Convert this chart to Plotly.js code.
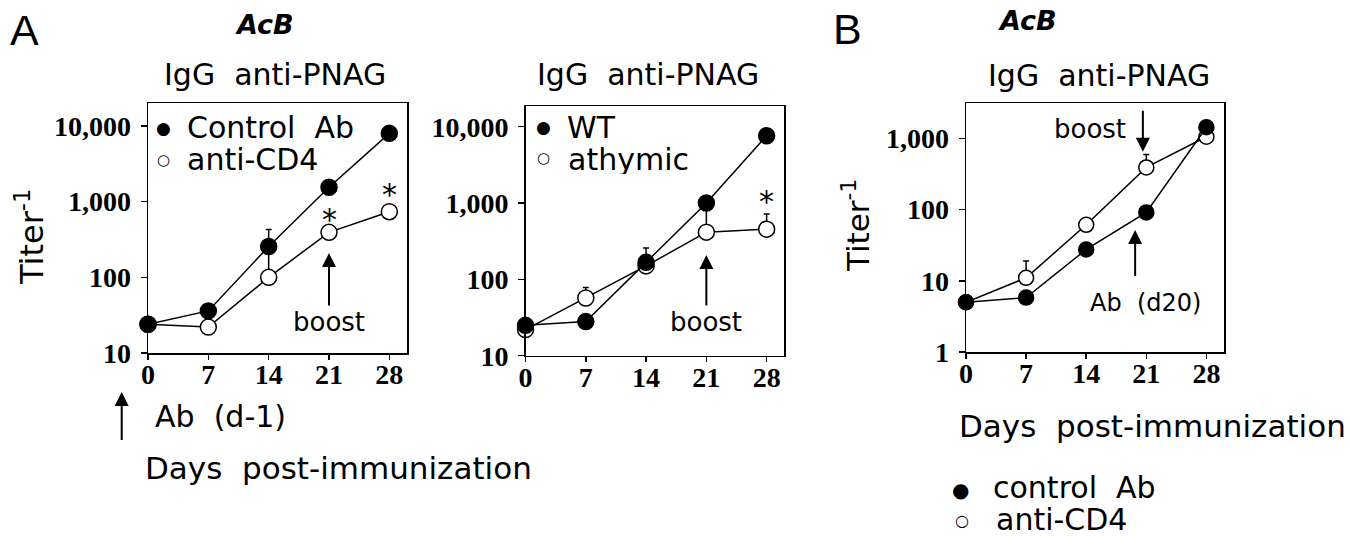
<!DOCTYPE html>
<html><head><meta charset="utf-8">
<script src="https://cdn.plot.ly/plotly-3.0.1.min.js"></script>
<style>html,body{margin:0;padding:0;background:#fff;}#chart{width:1350px;height:536px;}</style>
</head><body><div id="chart"></div>
<script>
// ---- data ----
const days = [0, 7, 14, 21, 28];
const dayTickText = ['0', '7', '14', '21', '28'];

// Panel A left: Control Ab vs anti-CD4
const a1Control = [24, 36, 256, 1550, 8000];
const a1ControlErr = [0, 0, 174, 0, 0];
const a1AntiCD4 = [24, 22, 100, 393, 736];
const a1AntiCD4Err = [0, 0, 140, 0, 0];

// Panel A right: WT vs athymic
const a2WT = [25, 28, 167, 1000, 7600];
const a2WTErr = [0, 0, 90, 0, 0];
const a2Athymic = [22, 57, 150, 415, 455];
const a2AthymicErr = [0, 21, 0, 485, 265];

// Panel B: control Ab vs anti-CD4 (Ab on day 20)
const bControl = [5, 5.8, 27.5, 91, 1430];
const bAntiCD4 = [5, 11, 61, 390, 1050];
const bAntiCD4Err = [0, 8, 0, 200, 0];

const yTicksA = [10, 100, 1000, 10000];
const yTickTextA = ['10', '100', '1,000', '10,000'];
const yTicksB = [1, 10, 100, 1000];
const yTickTextB = ['1', '10', '100', '1,000'];

// ---- layout helpers ----
const W = 1350, H = 536;
const px = x => x / W;
const py = y => 1 - y / H;
const zeros = n => new Array(n).fill(0);

function trace(y, err, filled, xa, ya, size) {
  return {
    x: days, y: y, xaxis: xa, yaxis: ya, type: 'scatter', mode: 'lines+markers',
    line: {color: '#000', width: 1.5},
    marker: {size: size, color: filled ? '#000' : '#fff', line: {color: '#000', width: 1.5}},
    error_y: {type: 'data', symmetric: false, array: err, arrayminus: zeros(days.length),
              visible: true, color: '#000', thickness: 1.5, width: 3},
    showlegend: false, hoverinfo: 'skip', cliponaxis: false
  };
}

const tickFont = {family: 'Liberation Serif', size: 28, weight: 'bold', color: '#000'};
function xAxis(domain, anchor) {
  return {domain: domain, anchor: anchor, range: [0, 30.05], tickmode: 'array', tickvals: days, ticktext: dayTickText,
    ticks: 'outside', ticklen: 5, tickwidth: 1.5, tickcolor: '#000', ticklabelstandoff: -9,
    showline: true, linecolor: '#000', linewidth: 1.5, mirror: true, showgrid: false, zeroline: false,
    tickfont: tickFont, fixedrange: true};
}
function yAxis(domain, anchor, range, tv, tt) {
  return {domain: domain, anchor: anchor, type: 'log', range: range, tickmode: 'array', tickvals: tv, ticktext: tt,
    ticks: 'outside', ticklen: 6, tickwidth: 1.5, tickcolor: '#000', ticklabelstandoff: 4,
    showline: true, linecolor: '#000', linewidth: 1.5, mirror: true, showgrid: false, zeroline: false,
    tickfont: tickFont, fixedrange: true};
}

const data = [
  trace(a1AntiCD4, a1AntiCD4Err, false, 'x', 'y', 16),
  trace(a1Control, a1ControlErr, true, 'x', 'y', 16),
  trace(a2Athymic, a2AthymicErr, false, 'x2', 'y2', 16),
  trace(a2WT, a2WTErr, true, 'x2', 'y2', 16),
  trace(bAntiCD4, bAntiCD4Err, false, 'x3', 'y3', 15),
  trace(bControl, zeros(days.length), true, 'x3', 'y3', 15)
];

const FONT = 'DejaVu Sans';
function ptext(text, x, y, size, opts) {
  return Object.assign({xref: 'paper', yref: 'paper', x: px(x), y: py(y), text: text, showarrow: false,
    xanchor: 'center', yanchor: 'middle', font: {family: FONT, size: size, color: '#000'}}, opts || {});
}
function dtext(text, xa, ya, x, titer, size, opts) {
  return Object.assign({xref: xa, yref: ya, x: x, y: Math.log10(titer), text: text, showarrow: false,
    xanchor: 'center', yanchor: 'middle', font: {family: FONT, size: size, color: '#000'}}, opts || {});
}
const ARROW = {arrowhead: 2, arrowsize: 1.4, arrowwidth: 2, arrowcolor: '#000', standoff: 0, startstandoff: 0};
function darrow(xa, ya, x, titer, ay) {
  return Object.assign({xref: xa, yref: ya, x: x, y: Math.log10(titer), text: ' ', showarrow: true,
    ax: 0, ay: ay, axref: 'pixel', ayref: 'pixel', font: {size: 1}}, ARROW);
}
// arrow whose tail carries a text label
function tarrow(text, xa, ya, x, titer, ay, size) {
  return Object.assign({xref: xa, yref: ya, x: x, y: Math.log10(titer), text: text, showarrow: true,
    ax: 0, ay: ay, axref: 'pixel', ayref: 'pixel', font: {family: FONT, size: size, color: '#000'}}, ARROW);
}
const NB = '\u00a0';
const LEG = {xanchor: 'left', height: 30};
const annotations = [
  ptext('A', 24, 30, 43, {font: {family: 'Liberation Sans', size: 43, color: '#000'}}),
  ptext('B', 847, 29, 43, {font: {family: 'Liberation Sans', size: 43, color: '#000'}}),
  ptext('AcB', 264, 24, 27, {font: {family: FONT, size: 27, color: '#000', weight: 'bold', style: 'italic'}}),
  ptext('AcB', 1027, 20, 27, {font: {family: FONT, size: 27, color: '#000', weight: 'bold', style: 'italic'}}),
  ptext('IgG' + NB + ' anti-PNAG', 275, 74, 30),
  ptext('IgG' + NB + ' anti-PNAG', 647.5, 74, 30),
  ptext('IgG' + NB + ' anti-PNAG', 1099, 76, 30),
  ptext('Titer<sup>-1</sup>', 30, 237, 32, {textangle: -90}),
  ptext('Titer<sup>-1</sup>', 856, 226, 31, {textangle: -90}),
  ptext('Days' + NB + ' post-immunization', 338, 468, 31),
  ptext('Days' + NB + ' post-immunization', 1152, 426, 31),
  ptext('Ab' + NB + ' (d-1)', 220, 416, 30),
  // legends
  ptext('\u25cf', 163, 128, 17),
  ptext('Control' + NB + ' Ab', 185, 127, 30, LEG),
  ptext('\u25cb', 163, 160, 15),
  ptext('anti-CD4', 185, 159, 30, LEG),
  ptext('\u25cf', 543, 127, 17),
  ptext('WT', 565, 127, 30, LEG),
  ptext('\u25cb', 543, 158, 15),
  ptext('athymic', 566, 159, 30, LEG),
  ptext('\u25cf', 960, 490, 20),
  ptext('control' + NB + ' Ab', 991, 487, 30, LEG),
  ptext('\u25cb', 962, 520, 16),
  ptext('anti-CD4', 994, 519, 30, LEG),
  // arrows & notes
  Object.assign({xref: 'paper', yref: 'paper', x: px(121.7), y: py(392), text: ' ', showarrow: true, ax: 0, ay: 50,
    font: {size: 1}}, ARROW),
  tarrow('boost', 'x', 'y', 21, 209, 69, 26),
  dtext('*', 'x', 'y', 21, 736, 30, {yshift: -8}),
  dtext('*', 'x', 'y', 28, 1600, 30, {yshift: -8}),
  tarrow('boost', 'x2', 'y2', 21, 208, 67, 26),
  dtext('*', 'x2', 'y2', 28, 1343, 30, {yshift: -8}),
  darrow('x3', 'y3', 20.6, 646, -43),
  dtext('boost', 'x3', 'y3', 14.5, 1337, 26),
  darrow('x3', 'y3', 19.7, 51.6, 48),
  dtext('Ab' + NB + ' (d20)', 'x3', 'y3', 20.9, 4.83, 24)
];

const layout = {
  width: W, height: H, margin: {l: 0, r: 0, t: 0, b: 0},
  paper_bgcolor: '#fff', plot_bgcolor: '#fff', showlegend: false,
  font: {family: FONT, color: '#000'},
  xaxis: xAxis([px(148), px(407)], 'y'),
  yaxis: yAxis([py(353), py(103)], 'x', [1, 4.304], yTicksA, yTickTextA),
  xaxis2: xAxis([px(525.5), px(784.3)], 'y2'),
  yaxis2: yAxis([py(355.7), py(106)], 'x2', [1, 4.271], yTicksA, yTickTextA),
  xaxis3: xAxis([px(966), px(1224)], 'y3'),
  yaxis3: yAxis([py(352), py(103.3)], 'x3', [0, 3.491], yTicksB, yTickTextB),
  annotations: annotations
};

Plotly.newPlot('chart', data, layout, {staticPlot: true, displayModeBar: false});
</script></body></html>
